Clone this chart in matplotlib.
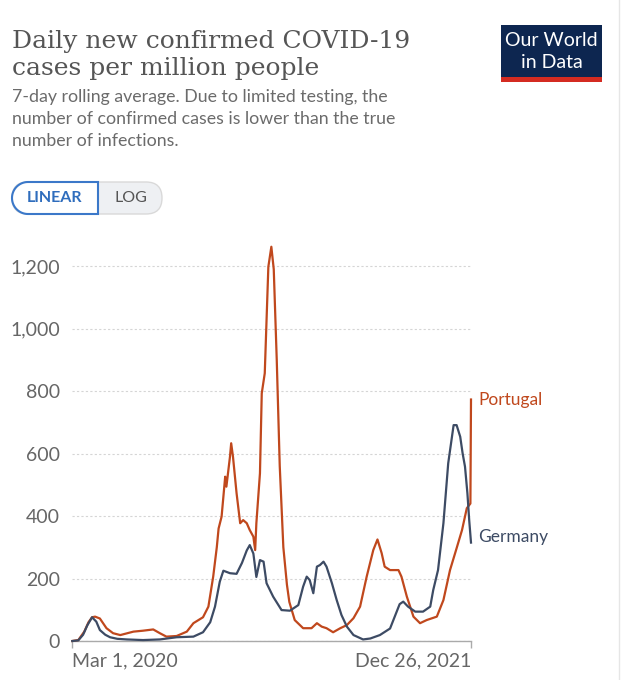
import matplotlib
matplotlib.use('Agg')
import matplotlib.pyplot as plt
import numpy as np
import pandas as pd
from matplotlib.patches import Rectangle, Polygon, FancyBboxPatch

# ---------------- data (days since Mar 1, 2020 ; cases per million) ----------------
germany_day = [0, 10, 18, 25, 33, 40, 46, 55, 63, 75, 91, 118, 146, 174, 202, 218, 230, 238,
               246, 252, 263, 274, 283, 291, 296, 302, 307, 313, 319, 324, 335, 349, 363, 377,
               385, 391, 396, 402, 408, 413, 419, 424, 433, 441, 449, 458, 469, 485, 497, 513,
               530, 546, 552, 560, 572, 585, 597, 602, 610, 619, 627, 636, 641, 647, 651, 655,
               659, 662, 665]
germany_val = [0, 2, 20, 50, 76, 62, 35, 20, 12, 7, 5, 3, 5, 12, 14, 28, 60, 110,
               190, 225, 217, 215, 250, 290, 307, 280, 205, 259, 254, 185, 142, 99, 97, 115,
               174, 206, 195, 153, 238, 243, 254, 238, 185, 131, 83, 46, 19, 5, 8, 19,
               40, 118, 126, 110, 94, 94, 110, 163, 227, 377, 569, 691, 691, 654, 601, 558,
               473, 387, 315]

portugal_day = [0, 10, 20, 27, 33, 38, 46, 57, 68, 80, 102, 118, 135, 146, 157, 174, 191, 202,
                218, 227, 235, 241, 244, 249, 255, 257, 263, 265, 268, 274, 280, 285, 291, 296,
                302, 305, 307, 313, 316, 321, 327, 332, 336, 341, 346, 352, 358, 362, 371, 385,
                399, 408, 416, 424, 435, 447, 458, 469, 480, 491, 502, 509, 516, 521, 530, 544,
                549, 558, 569, 580, 591, 608, 619, 630, 641, 650, 658, 664, 665]
portugal_val = [0, 3, 30, 60, 76, 78, 72, 41, 25, 19, 30, 33, 37, 25, 14, 16, 30, 57,
                76, 110, 206, 300, 360, 398, 526, 494, 590, 633, 590, 473, 377, 387, 377, 355,
                334, 291, 377, 537, 793, 857, 1198, 1262, 1190, 900, 560, 300, 180, 125, 67, 41,
                41, 57, 46, 41, 28, 41, 51, 73, 110, 206, 291, 325, 281, 238, 227, 227,
                206, 142, 78, 57, 67, 78, 131, 227, 297, 355, 425, 440, 773]

y_ticks = [0, 200, 400, 600, 800, 1000, 1200]
y_tick_labels = ['0', '200', '400', '600', '800', '1,000', '1,200']
x_tick_labels = ['Mar 1, 2020', 'Dec 26, 2021']
series_names = ['Portugal', 'Germany']

title_lines = ['Daily new confirmed COVID-19', 'cases per million people']
subtitle_lines = ['7-day rolling average. Due to limited testing, the',
                  'number of confirmed cases is lower than the true',
                  'number of infections.']

# ---------------- styling ----------------
plt.rcParams['font.family'] = ['Lato', 'DejaVu Sans']
C_PT = '#C0481D'
C_DE = '#3D4B64'
GRAY = '#666666'

W, H = 627, 680
fig = plt.figure(figsize=(W / 100, H / 100), dpi=100)
fig.patch.set_facecolor('white')

start = pd.Timestamp('2020-03-01')
end = pd.Timestamp('2021-12-26')
g_dates = start + pd.to_timedelta(germany_day, unit='D')
p_dates = start + pd.to_timedelta(portugal_day, unit='D')

# overlay (pixel coordinates) for header decorations
ov = fig.add_axes([0, 0, 1, 1])
ov.set_xlim(0, W)
ov.set_ylim(H, 0)
ov.axis('off')

for i, line in enumerate(title_lines):
    ov.text(12, 48 + i * 26.5, line, family=['DejaVu Serif'], fontsize=18,
            color='#555555', va='baseline', ha='left')
for i, line in enumerate(subtitle_lines):
    ov.text(12, 102 + i * 21.8, line, fontsize=12.8, color='#6b6b6b',
            va='baseline', ha='left')

# logo
ov.add_patch(Rectangle((501, 25), 101, 52, facecolor='#0D2650', edgecolor='none'))
ov.add_patch(Rectangle((501, 77), 101, 5, facecolor='#D42B21', edgecolor='none'))
ov.text(551.5, 41, 'Our World', color='white', fontsize=14, ha='center', va='center')
ov.text(551.5, 63, 'in Data', color='white', fontsize=14, ha='center', va='center')

# LINEAR / LOG toggle
ov.add_patch(FancyBboxPatch((12, 182), 150, 32, boxstyle='round,pad=0,rounding_size=16',
                            facecolor='#EEF0F3', edgecolor='#D9D9D9', lw=1))
t = np.linspace(np.pi / 2, 3 * np.pi / 2, 40)
pts = np.column_stack([28 + 16 * np.cos(t), 198 + 16 * np.sin(t)])
pts = np.vstack([pts, [[98, 182], [98, 214]]])
ov.add_patch(Polygon(pts, closed=True, facecolor='white', edgecolor='#3B78C9', lw=1.5))
ov.text(55, 198, 'LINEAR', color='#2F6DBD', fontsize=11.5, fontweight='bold',
        ha='center', va='center')
ov.text(131, 198, 'LOG', color='#555555', fontsize=11.5, ha='center', va='center')

# right border line of screenshot
ov.plot([619, 619], [0, H], color='#E6E6E6', lw=1)

# ---------------- main chart ----------------
ax = fig.add_axes([72.3 / W, (H - 641) / H, (471 - 72.3) / W, (641 - 238) / H])
ax.set_facecolor('none')
ax.set_xlim(start, end)
ax.set_ylim(0, 1290)

ax.plot(p_dates, portugal_val, color=C_PT, lw=1.6, clip_on=False, zorder=3)
ax.plot(g_dates, germany_val, color=C_DE, lw=1.6, clip_on=False, zorder=4)

ax.set_yticks(y_ticks)
ax.set_yticklabels(y_tick_labels)
ax.tick_params(axis='y', length=0, pad=9, labelsize=14, labelcolor=GRAY)
ax.set_xticks([start, end])
ax.set_xticklabels(x_tick_labels)
ax.tick_params(axis='x', length=5, width=1, color='#AAAAAA', pad=3,
               labelsize=14, labelcolor=GRAY)
xl = ax.get_xticklabels()
xl[0].set_ha('left')
xl[1].set_ha('right')

ax.grid(axis='y', linestyle=(0, (2, 2)), color='#D5D5D5', lw=0.8)
ax.grid(axis='x', visible=False)
ax.set_axisbelow(True)
for s in ['top', 'right', 'left']:
    ax.spines[s].set_visible(False)
ax.spines['bottom'].set_color('#AAAAAA')
ax.spines['bottom'].set_linewidth(1)

ax.annotate(series_names[0], xy=(p_dates[-1], portugal_val[-1]), xytext=(5, 0),
            textcoords='offset points', va='center', ha='left', color=C_PT, fontsize=12.5,
            annotation_clip=False)
ax.annotate(series_names[1], xy=(g_dates[-1], germany_val[-1]), xytext=(5, 4),
            textcoords='offset points', va='center', ha='left', color=C_DE, fontsize=12.5,
            annotation_clip=False)

fig.savefig('out.png', dpi=100, facecolor='white')
